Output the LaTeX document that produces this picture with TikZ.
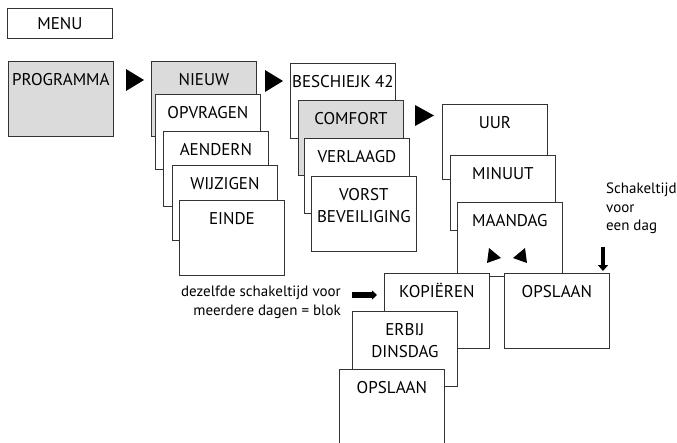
\documentclass[tikz,border=0pt]{standalone}
\usepackage{fontspec}
\setmainfont{PT Sans}
\usetikzlibrary{arrows.meta}

\begin{document}
\begin{tikzpicture}[x=1pt, y=1pt]
\tikzstyle{every node}+=[inner sep=0pt]
\tikzstyle{menubox}=[draw=black!80, line width=0.8pt, fill=white, minimum width=105pt, minimum height=75pt, anchor=north west, font=\fontsize{17}{22}\selectfont]
\tikzstyle{grey}=[fill=black!14]
\tikzstyle{boxtext}=[anchor=base, yshift=-24pt, align=center, font=\fontsize{17}{22}\selectfont]
\tikzstyle{boxtexttwo}=[anchor=base, yshift=-46pt, align=center, font=\fontsize{17}{22}\selectfont]
\tikzstyle{note}=[font=\fontsize{15}{18.5}\selectfont]
\tikzstyle{fatarrow}=[line width=6pt, -{Triangle[width=9pt, length=5pt]}]
\useasboundingbox (0,0) rectangle (677,-442);
% first column
\node [menubox, minimum height=30pt] (menu) at (7,-8) {MENU};
\node [menubox, grey, label={[boxtext]north:PROGRAMMA}] (programma) at (8,-61) {};
\fill [black] (126,-69) -- (144,-80) -- (126,-91);
% program menu
\node [menubox, grey, label={[boxtext]north:NIEUW}] (nieuw) at (151,-61) {};
\node [menubox, label={[boxtext]north:OPVRAGEN}] (opvragen) at (155,-94) {};
\node [menubox, label={[boxtext]north:AENDERN}] (aendern) at (163,-131) {};
\node [menubox, label={[boxtext]north:WIJZIGEN}] (wijzigen) at (172,-165) {};
\node [menubox, label={[boxtext]north:EINDE}] (einde) at (179,-200) {};
\fill [black] (265,-70) -- (283,-81) -- (265,-92);
% temperature choice
\node [menubox, label={[boxtext]north:BESCHIEJK 42}] (beschiejk) at (290,-63) {};
\node [menubox, grey, label={[boxtext]north:COMFORT}] (comfort) at (298,-100) {};
\node [menubox, label={[boxtext]north:VERLAAGD}] (verlaagd) at (304,-138) {};
\node [menubox, label={[boxtexttwo]north:VORST\\BEVEILIGING}] (vorst) at (311,-176) {};
\fill [black] (415,-105) -- (434,-115.5) -- (415,-126);
% time and day
\node [menubox, label={[boxtext]north:UUR}] (uur) at (442,-104) {};
\node [menubox, label={[boxtext]north:MINUUT}] (minuut) at (450,-155) {};
\node [menubox, minimum height=74pt, label={[boxtext]north:MAANDAG}] (maandag) at (457,-202) {};
\fill [black] (489,-248) -- (501,-258) -- (487,-263);
\fill [black] (513,-258) -- (525,-248) -- (527,-263);
% copy to more days
\node [menubox, label={[boxtext]north:KOPIËREN}] (kopieren) at (384,-273) {};
\node [menubox, label={[boxtexttwo]north:ERBIJ\\DINSDAG}] (erbij) at (352,-311) {};
\node [menubox, label={[boxtext]north:OPSLAAN}] (opslaan) at (339,-369) {};
\node [menubox, label={[boxtext]north:OPSLAAN}] (opslaandag) at (504,-273) {};
% notes
\node [note, anchor=north east, align=right] (blok) at (341,-286) {dezelfde schakeltijd voor\\meerdere dagen = blok};
\coordinate (blokpijl) at (352,-295);
\draw [fatarrow, shorten >=7pt] (blokpijl) -- (kopieren.west |- blokpijl);
\node [note, anchor=north west, align=left] (dag) at (606,-183) {Schakeltijd\\voor\\een dag};
\coordinate (dagpijl) at (603,-247);
\draw [fatarrow, line width=4.5pt, -{Triangle[width=10pt, length=6pt]}, shorten >=2pt] (dagpijl) -- (dagpijl |- opslaandag.north);
\end{tikzpicture}
\end{document}
